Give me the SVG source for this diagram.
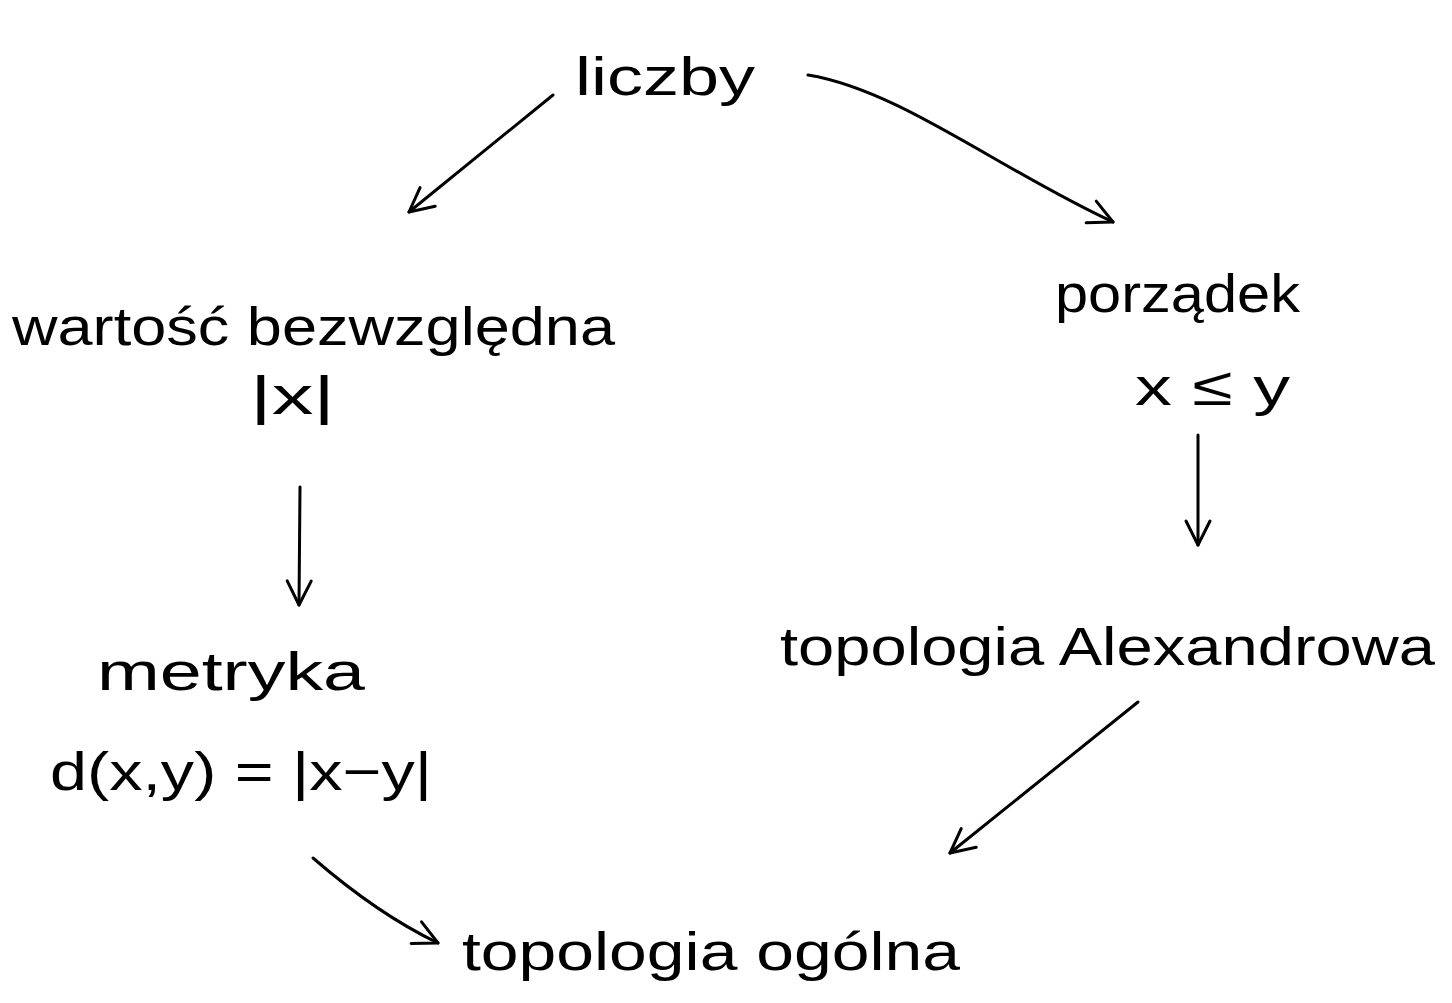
<svg xmlns="http://www.w3.org/2000/svg" width="1452" height="1003" viewBox="0 0 1452 1003">
<defs>
<style>
.t{font-family:"Liberation Sans","DejaVu Sans",sans-serif;fill:#000;font-size:54px}
.c{fill:none;stroke:#000;stroke-width:3;stroke-linecap:round;stroke-linejoin:round}
</style>
<marker id="ah" viewBox="-28 -16 32 32" refX="0" refY="0" markerWidth="32" markerHeight="32" markerUnits="userSpaceOnUse" orient="auto">
<path d="M-24,-12 L0,0 L-24,12" fill="none" stroke="#000" stroke-width="3" stroke-linecap="round" stroke-linejoin="round"/>
</marker>
</defs>
<rect width="1452" height="1003" fill="#fff"/>
<g id="connectors">
<path class="c" d="M553,95 L409,212" marker-end="url(#ah)"/>
<path class="c" d="M808,75 C900,90 1000,170 1113,222" marker-end="url(#ah)"/>
<path class="c" d="M300,487 L299,605" marker-end="url(#ah)"/>
<path class="c" d="M1198,435 L1198,545" marker-end="url(#ah)"/>
<path class="c" d="M1138,702 L950,853" marker-end="url(#ah)"/>
<path class="c" d="M313,858 C350,890 390,920 438,943" marker-end="url(#ah)"/>
</g>
<g id="liczby"><text class="t" x="575" y="95" textLength="180" lengthAdjust="spacingAndGlyphs">liczby</text></g>
<g id="wartosc"><text class="t" x="12" y="345" textLength="603" lengthAdjust="spacingAndGlyphs">wartość bezwzględna</text>
<text class="t" x="250" y="414" textLength="85" lengthAdjust="spacingAndGlyphs">|x|</text></g>
<g id="porzadek"><text class="t" x="1055" y="312" textLength="245" lengthAdjust="spacingAndGlyphs">porządek</text>
<text class="t" x="1135" y="405" textLength="155" lengthAdjust="spacingAndGlyphs">x ≤ y</text></g>
<g id="metryka"><text class="t" x="97" y="690" textLength="268" lengthAdjust="spacingAndGlyphs">metryka</text>
<text class="t" x="50" y="790" textLength="382" lengthAdjust="spacingAndGlyphs">d(x,y) = |x−y|</text></g>
<g id="alexandrowa"><text class="t" x="780" y="665" textLength="655" lengthAdjust="spacingAndGlyphs">topologia Alexandrowa</text></g>
<g id="ogolna"><text class="t" x="462" y="970" textLength="498" lengthAdjust="spacingAndGlyphs">topologia ogólna</text></g>
</svg>
